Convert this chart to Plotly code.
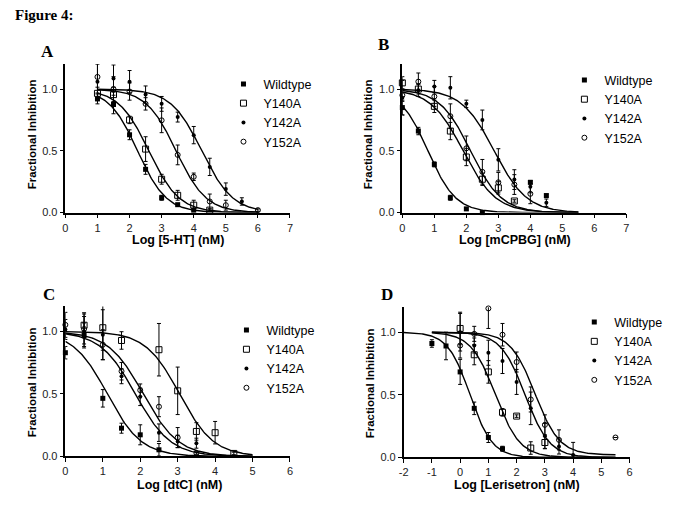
import numpy as np
import plotly.graph_objects as go

W, H = 685, 524
OFF = 8  # default page body margin, compensated so the figure lines up with the window

# ---------------- data ----------------
series_names = ["Wildtype", "Y140A", "Y142A", "Y152A"]

# Panel A : 5-HT
A_wt_x = [1, 1.5, 2, 2.5, 3, 3.5, 4]
A_wt_y = [0.92, 0.875, 0.63, 0.35, 0.12, 0.064, 0.02]
A_wt_e = [0.04, 0.075, 0.04, 0.04, 0.02, 0.01, 0.01]
A_140_x = [1, 1.5, 2, 2.5, 3, 3.5, 4, 4.5]
A_140_y = [0.965, 0.955, 0.75, 0.514, 0.27, 0.14, 0.06, 0.02]
A_140_e = [0.05, 0.06, 0.03, 0.1, 0.04, 0.04, 0.04, 0.01]
A_142_x = [1, 1.5, 2, 2.5, 3, 3.5, 4, 4.5, 5, 5.5]
A_142_y = [1.06, 1.085, 1.06, 0.955, 0.88, 0.773, 0.627, 0.37, 0.19, 0.09]
A_142_e = [0.14, 0.11, 0.09, 0.07, 0.06, 0.04, 0.07, 0.07, 0.05, 0.03]
A_152_x = [1, 1.5, 2, 2.5, 3, 3.5, 4, 4.5, 5, 6]
A_152_y = [1.098, 1.0, 0.98, 0.88, 0.747, 0.467, 0.29, 0.09, 0.06, 0.02]
A_152_e = [0.13, 0.1, 0.07, 0.05, 0.1, 0.08, 0.03, 0.06, 0.04, 0.01]
# fit parameters: logIC50, hill slope, top, bottom
A_fit = {"Wildtype": (2.25, 0.97, 1.0, 0.0), "Y140A": (2.6, 0.92, 1.0, 0.0),
         "Y142A": (4.25, 0.9, 1.0, 0.0), "Y152A": (3.45, 0.93, 1.0, 0.0)}
A_fit_range = (1, 6)

# Panel B : mCPBG
B_wt_x = [0, 0.5, 1, 1.5, 2, 2.5, 4, 4.5]
B_wt_y = [0.85, 0.66, 0.39, 0.12, 0.03, 0.0, 0.245, 0.138]
B_wt_e = [0.06, 0.03, 0.02, 0.02, 0.01, 0.01, 0.01, 0.01]
B_140_x = [0, 0.5, 1, 1.5, 2, 2.5, 3, 3.5]
B_140_y = [1.05, 1.0, 0.86, 0.66, 0.45, 0.27, 0.2, 0.094]
B_140_e = [0.05, 0.04, 0.05, 0.07, 0.07, 0.05, 0.05, 0.01]
B_142_x = [0, 0.5, 1, 1.5, 2, 2.5, 3, 3.5, 4, 4.5]
B_142_y = [0.93, 0.99, 1.02, 1.01, 0.88, 0.75, 0.427, 0.267, 0.21, 0.08]
B_142_e = [0.14, 0.05, 0.05, 0.09, 0.03, 0.08, 0.09, 0.08, 0.05, 0.03]
B_152_x = [0, 0.5, 1, 1.5, 2, 2.5, 3, 3.5, 4]
B_152_y = [0.95, 1.06, 0.94, 0.78, 0.52, 0.33, 0.245, 0.227, 0.152]
B_152_e = [0.05, 0.07, 0.08, 0.1, 0.1, 0.1, 0.08, 0.08, 0.08]
B_fit = {"Wildtype": (0.8, 1.0, 1.0, 0.0), "Y140A": (1.9, 0.85, 1.0, 0.0),
         "Y142A": (2.87, 0.85, 1.0, 0.0), "Y152A": (2.13, 0.9, 1.0, 0.0)}
B_fit_range = (0, 5.5)

# Panel C : dtC
C_wt_x = [0, 0.5, 1, 1.5, 2, 2.5]
C_wt_y = [0.83, 0.968, 0.465, 0.226, 0.173, 0.053]
C_wt_e = [0.05, 0.1, 0.07, 0.04, 0.08, 0.05]
C_140_x = [0.5, 1, 1.5, 2.5, 3, 3.5, 4, 4.5]
C_140_y = [1.05, 1.03, 0.928, 0.854, 0.525, 0.2, 0.19, 0.024]
C_140_e = [0.1, 0.18, 0.07, 0.21, 0.19, 0.07, 0.09, 0.01]
C_142_x = [0, 0.5, 1, 1.5, 2, 2.5, 3, 3.5]
C_142_y = [1.016, 1.0, 0.974, 0.642, 0.477, 0.19, 0.12, 0.106]
C_142_e = [0.08, 0.12, 0.2, 0.06, 0.07, 0.07, 0.05, 0.04]
C_152_x = [0, 0.5, 1, 1.5, 2, 2.5, 3, 3.5]
C_152_y = [1.053, 1.02, 0.894, 0.682, 0.53, 0.398, 0.151, 0.027]
C_152_e = [0.1, 0.12, 0.12, 0.07, 0.05, 0.08, 0.08, 0.01]
C_fit = {"Wildtype": (1.12, 0.95, 1.0, 0.0), "Y140A": (3.05, 0.95, 1.0, 0.0),
         "Y142A": (1.87, 0.92, 1.0, 0.0), "Y152A": (2.08, 0.92, 1.0, 0.0)}
C_fit_range = (0, 5)

# Panel D : Lerisetron
D_wt_x = [-1, -0.5, 0, 0.5, 1, 1.5]
D_wt_y = [0.91, 0.89, 0.683, 0.392, 0.159, 0.069]
D_wt_e = [0.03, 0.11, 0.1, 0.05, 0.04, 0.02]
D_140_x = [0, 0.5, 1, 1.5, 2, 2.5, 3]
D_140_y = [1.03, 0.82, 0.683, 0.36, 0.33, 0.075, 0.119]
D_140_e = [0.13, 0.08, 0.09, 0.03, 0.01, 0.05, 0.05]
D_142_x = [0, 0.5, 1, 1.5, 2, 2.5, 3, 3.5, 4]
D_142_y = [1.0, 0.894, 0.836, 0.77, 0.603, 0.392, 0.172, 0.087, 0.02]
D_142_e = [0.15, 0.06, 0.1, 0.1, 0.1, 0.13, 0.1, 0.06, 0.1]
D_152_x = [0, 0.5, 1, 1.5, 2, 2.5, 3, 3.5, 5.5]
D_152_y = [0.894, 0.987, 1.19, 0.98, 0.762, 0.463, 0.26, 0.14, 0.159]
D_152_e = [0.1, 0.06, 0.16, 0.09, 0.08, 0.1, 0.08, 0.08, 0.0]
D_fit = {"Wildtype": (0.35, 1.1, 1.0, 0.0), "Y140A": (1.25, 1.0, 1.0, 0.0),
         "Y142A": (2.3, 1.0, 1.0, 0.0), "Y152A": (2.65, 1.0, 1.0, 0.02)}
D_fit_range = {"Wildtype": (-2, 5.5), "Y140A": (-1, 5.5), "Y142A": (-1, 5.5), "Y152A": (-1, 5.5)}

x_titles = ["Log [5-HT] (nM)", "Log [mCPBG] (nM)", "Log [dtC] (nM)", "Log [Lerisetron] (nM)"]
y_title = "Fractional Inhibition"
panel_letters = ["A", "B", "C", "D"]
x_ranges = [(0, 7), (0, 7), (0, 6), (-2, 6)]
y_range = (0, 1.2)
y_ticks = [0.0, 0.5, 1.0]

# ---------------- layout geometry (window pixels) ----------------
boxes = [(61, 288.3, 65, 215), (402, 628.7, 65, 215),
         (61, 288.3, 310, 461.7), (403.3, 632, 310.7, 462.7)]
legend_pos = [(221, 70), (566, 66), (224, 319), (576, 311)]
letter_pos = [(43, 52), (383, 45), (44, 298), (386, 298)]
xtitle_pos = [(175, 243), (516, 243), (176, 491), (518, 491)]
ytitle_pos = [(27, 136), (367, 136), (27, 387), (369, 388)]

FW, FH = W - OFF, H - OFF

def fx(p):
    return (p - OFF) / FW

def fy(p):
    return 1 - (p - OFF) / FH

styles = {
    "Wildtype": dict(symbol="square", size=5, color="black"),
    "Y140A": dict(symbol="square-open", size=6, color="black", line=dict(width=1, color="black")),
    "Y142A": dict(symbol="circle", size=4, color="black"),
    "Y152A": dict(symbol="circle-open", size=5, color="black", line=dict(width=1, color="black")),
}

panels = [
    ([(A_wt_x, A_wt_y, A_wt_e), (A_140_x, A_140_y, A_140_e), (A_142_x, A_142_y, A_142_e), (A_152_x, A_152_y, A_152_e)], A_fit, {n: A_fit_range for n in series_names}),
    ([(B_wt_x, B_wt_y, B_wt_e), (B_140_x, B_140_y, B_140_e), (B_142_x, B_142_y, B_142_e), (B_152_x, B_152_y, B_152_e)], B_fit, {n: B_fit_range for n in series_names}),
    ([(C_wt_x, C_wt_y, C_wt_e), (C_140_x, C_140_y, C_140_e), (C_142_x, C_142_y, C_142_e), (C_152_x, C_152_y, C_152_e)], C_fit, {n: C_fit_range for n in series_names}),
    ([(D_wt_x, D_wt_y, D_wt_e), (D_140_x, D_140_y, D_140_e), (D_142_x, D_142_y, D_142_e), (D_152_x, D_152_y, D_152_e)], D_fit, D_fit_range),
]

fig = go.Figure()
layout = dict(width=FW, height=FH, margin=dict(l=0, r=0, t=0, b=0),
              paper_bgcolor="white", plot_bgcolor="white", showlegend=True,
              font=dict(family="Arial, Liberation Sans, sans-serif", color="black"))
annotations = []

for i, (data, fits, franges) in enumerate(panels):
    k = "" if i == 0 else str(i + 1)
    xa, ya = "x" + k, "y" + k
    leg = "legend" + k
    L, R, T, B = boxes[i]
    for name in series_names:
        lic, h, top, bot = fits[name]
        x0, x1 = franges[name]
        xs = np.linspace(x0, x1, 200)
        ys = bot + (top - bot) / (1 + 10 ** ((xs - lic) * h))
        fig.add_trace(go.Scatter(x=xs, y=ys, mode="lines", line=dict(color="black", width=1.4),
                                 xaxis=xa, yaxis=ya, showlegend=False, hoverinfo="skip",
                                 cliponaxis=False))
    for name, (xs, ys, es) in zip(series_names, data):
        fig.add_trace(go.Scatter(x=xs, y=ys, mode="markers", name=name, marker=styles[name],
                                 error_y=dict(type="data", array=es, color="black", thickness=1, width=2),
                                 xaxis=xa, yaxis=ya, legend=leg, cliponaxis=False))
    xr = x_ranges[i]
    tv = list(range(xr[0], xr[1] + 1))
    layout["xaxis" + k] = dict(domain=[fx(L), fx(R)], range=list(xr), anchor=ya,
                               tickmode="array", tickvals=tv, ticktext=[str(v) for v in tv],
                               showline=True, linecolor="black", linewidth=1.5,
                               ticks="outside", ticklen=4, tickwidth=1.3, tickcolor="black",
                               showgrid=False, zeroline=False,
                               tickfont=dict(size=11, color="#222"))
    layout["yaxis" + k] = dict(domain=[fy(B), fy(T)], range=list(y_range), anchor=xa,
                               tickmode="array", tickvals=y_ticks, tickformat=".1f",
                               showline=True, linecolor="black", linewidth=1.5,
                               ticks="outside", ticklen=4, tickwidth=1.3, tickcolor="black",
                               showgrid=False, zeroline=False,
                               tickfont=dict(size=11, color="#222"))
    lx, ly = legend_pos[i]
    layout[leg] = dict(x=fx(lx), y=fy(ly), xanchor="left", yanchor="top",
                       bgcolor="rgba(0,0,0,0)", borderwidth=0, itemwidth=30,
                       tracegroupgap=0, font=dict(size=12.5, color="black",
                                                  family="Arial, Liberation Sans, sans-serif"))
    px, py = letter_pos[i]
    annotations.append(dict(text="<b>" + panel_letters[i] + "</b>", x=fx(px), y=fy(py),
                            xref="paper", yref="paper", showarrow=False,
                            xanchor="center", yanchor="middle",
                            font=dict(family="Liberation Serif, Times New Roman, serif", size=17, color="black")))
    tx, ty = xtitle_pos[i]
    annotations.append(dict(text="<b>" + x_titles[i] + "</b>", x=fx(tx), y=fy(ty),
                            xref="paper", yref="paper", showarrow=False,
                            xanchor="center", yanchor="middle",
                            font=dict(size=12.5, color="black")))
    yx, yy = ytitle_pos[i]
    annotations.append(dict(text="<b>" + y_title + "</b>", x=fx(yx), y=fy(yy),
                            xref="paper", yref="paper", showarrow=False, textangle=-90,
                            xanchor="center", yanchor="middle",
                            font=dict(size=11.5, color="black")))

annotations.append(dict(text="<b>Figure 4:</b>", x=fx(8), y=fy(15), xref="paper", yref="paper",
                        showarrow=False, xanchor="left", yanchor="middle",
                        font=dict(family="Liberation Serif, Times New Roman, serif", size=15, color="black")))
layout["annotations"] = annotations
fig.update_layout(**layout)
fig.write_html("out.html")
